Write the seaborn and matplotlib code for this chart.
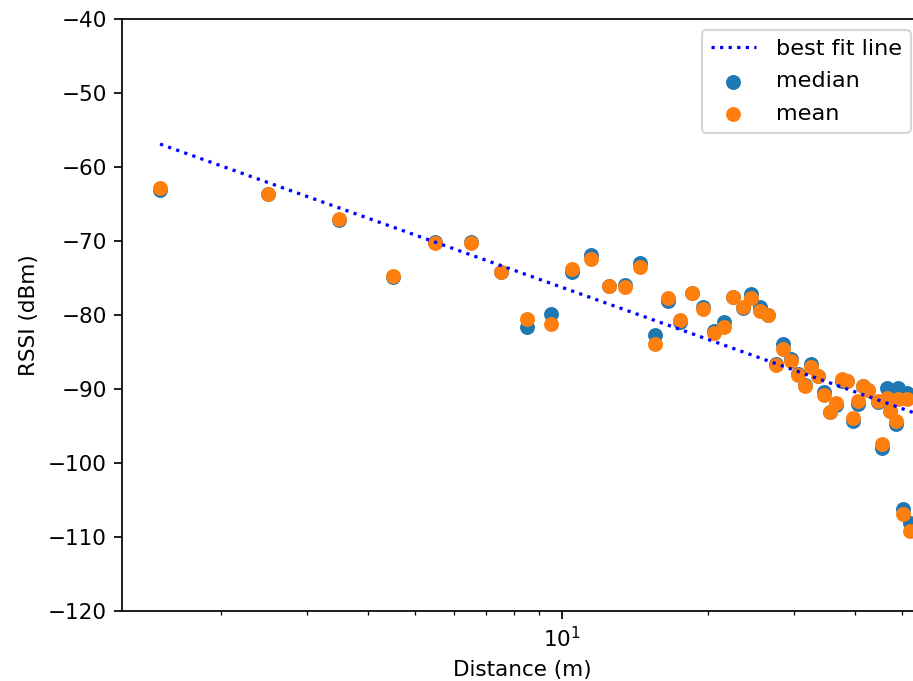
import numpy as np
import pandas as pd
import matplotlib
matplotlib.use("Agg")
import matplotlib.pyplot as plt
import seaborn as sns

# ---- data ----
distance = [1.5, 2.5, 3.5, 4.5, 5.5, 6.5, 7.5, 8.5, 9.5, 10.5,
            11.5, 12.5, 13.5, 14.5, 15.5, 16.5, 17.5, 18.5, 19.5, 20.5,
            21.5, 22.5, 23.5, 24.5, 25.5, 26.5, 27.5, 28.5, 29.5, 30.5,
            31.5, 32.5, 33.5, 34.5, 35.5, 36.5, 37.5, 38.5, 39.5, 40.5,
            41.5, 42.5, 44.6, 45.4, 46.5, 47.2, 48.5, 48.9, 50.1, 51.1,
            51.8]
median_rssi = [-63.1, -63.7, -67.1, -74.9, -70.1, -70.1, -74.2, -81.6, -79.9, -74.2,
               -71.9, -76.1, -76.0, -73.0, -82.7, -78.1, -81.0, -77.0, -78.9, -82.2,
               -80.9, -77.5, -79.1, -77.1, -78.9, -80.0, -86.6, -83.9, -86.0, -88.0,
               -89.4, -86.6, -88.2, -90.4, -93.1, -92.2, -88.9, -88.9, -94.3, -92.0,
               -89.6, -90.2, -91.7, -98.0, -89.9, -93.0, -94.7, -89.9, -106.2, -90.5,
               -108.1]
mean_rssi = [-62.8, -63.6, -67.0, -74.7, -70.3, -70.3, -74.2, -80.5, -81.2, -73.8,
             -72.4, -76.1, -76.2, -73.5, -83.9, -77.7, -80.7, -77.0, -79.2, -82.4,
             -81.6, -77.6, -78.9, -77.7, -79.5, -80.0, -86.8, -84.6, -86.2, -88.1,
             -89.6, -87.0, -88.2, -90.8, -93.1, -91.9, -88.6, -88.9, -93.9, -91.6,
             -89.6, -90.2, -91.6, -97.4, -91.2, -93.0, -94.3, -91.4, -106.9, -91.4,
             -109.2]
fit_distance = [1.5, 54.8]
fit_rssi = [-56.9, -93.6]

y_ticks = [-40, -50, -60, -70, -80, -90, -100, -110, -120]

# ---- figure ----
DPI = 155
fig = plt.figure(figsize=(913 / DPI, 681 / DPI), dpi=DPI)
ax = fig.add_axes([122 / 913, 1 - 611 / 681, 800 / 913, 592 / 681])

fit_df = pd.DataFrame({"d": fit_distance, "r": fit_rssi})
pts = pd.DataFrame({"d": distance, "median": median_rssi, "mean": mean_rssi})

sns.lineplot(data=fit_df, x="d", y="r", ax=ax, color="blue", linestyle=":",
             linewidth=1.5, label="best fit line")
sns.scatterplot(data=pts, x="d", y="median", ax=ax, color="#1f77b4", s=48,
                linewidth=0, label="median")
sns.scatterplot(data=pts, x="d", y="mean", ax=ax, color="#ff7f0e", s=48,
                linewidth=0, label="mean")

ax.set_xscale("log")
ax.set_xlim(1.2533, 54.83)
ax.set_ylim(-120, -40)
ax.set_yticks(y_ticks)
ax.set_xlabel("Distance (m)")
ax.set_ylabel("RSSI (dBm)")
ax.legend(loc="upper right", fontsize=10.4, labelspacing=0.55,
          handletextpad=0.9)

fig.savefig("out.png", dpi=DPI)
